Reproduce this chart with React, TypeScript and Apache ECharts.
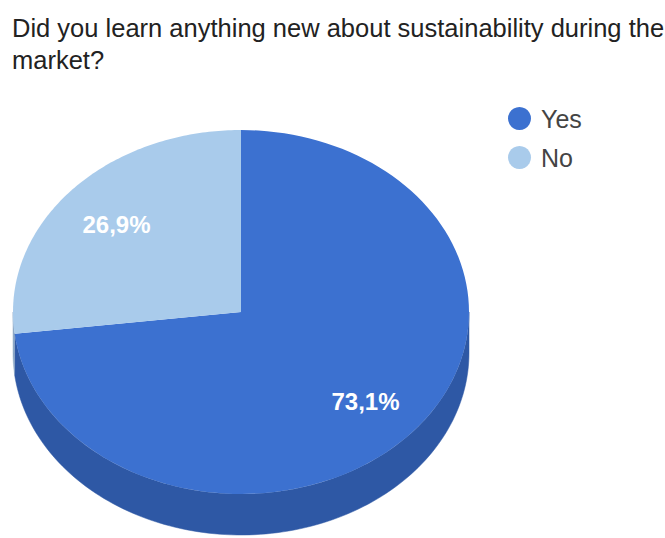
import React, { useEffect, useRef } from "react";
import * as echarts from "echarts";

const titleText = "Did you learn anything new about sustainability during the\nmarket?";
const categories = ["Yes", "No"];
const values = [73.1, 26.9];
const topColors = ["#3c71d0", "#a9cbeb"];
const sideColors = ["#2e58a5", "#8ea9c6"];

const CX = 241;
const CY = 312;
const RX = 228;
const RY = 182;
const DEPTH = 41;
const LABEL_F = 0.73;

export default function App() {
  const ref = useRef<HTMLDivElement>(null);
  useEffect(() => {
    if (!ref.current) return;
    const chart = echarts.init(ref.current, null, { renderer: "svg" });
    const total = values.reduce((a, b) => a + b, 0);
    const starts: number[] = [];
    let acc = 0;
    values.forEach((v) => {
      starts.push(acc);
      acc += v;
    });
    const pt = (phi: number, dy = 0) => [CX + RX * Math.cos(phi), CY + RY * Math.sin(phi) + dy];

    const renderItem = (params: any) => {
      const i = params.dataIndex;
      const t1 = (starts[i] / total) * Math.PI * 2;
      const t2 = ((starts[i] + values[i]) / total) * Math.PI * 2;
      const p1 = t1 - Math.PI / 2;
      const p2 = t2 - Math.PI / 2;
      const children: any[] = [];
      const N = 120;
      const a = Math.max(p1, 0);
      const b = Math.min(p2, Math.PI);
      if (b > a) {
        const pts: number[][] = [];
        for (let k = 0; k <= N; k++) pts.push(pt(a + ((b - a) * k) / N));
        for (let k = N; k >= 0; k--) pts.push(pt(a + ((b - a) * k) / N, DEPTH));
        children.push({
          type: "polygon",
          z2: 1,
          shape: { points: pts },
          style: { fill: sideColors[i], stroke: sideColors[i], lineWidth: 0.5 },
        });
      }
      const top: number[][] = [[CX, CY]];
      for (let k = 0; k <= N; k++) top.push(pt(p1 + ((p2 - p1) * k) / N));
      children.push({
        type: "polygon",
        z2: 10,
        shape: { points: top },
        style: { fill: topColors[i] },
      });
      const tm = (t1 + t2) / 2;
      children.push({
        type: "text",
        z2: 20,
        x: CX + RX * LABEL_F * Math.sin(tm),
        y: CY - RY * LABEL_F * Math.cos(tm) + 1,
        style: {
          text: values[i].toFixed(1).replace(".", ",") + "%",
          fill: "#ffffff",
          font: "bold 24px 'Liberation Sans', Arial, sans-serif",
          align: "center",
          verticalAlign: "middle",
        },
      });
      return { type: "group", children };
    };

    chart.setOption({
      animation: false,
      title: {
        text: titleText,
        left: 7,
        top: 7,
        textStyle: {
          fontFamily: "'Liberation Sans', Arial, sans-serif",
          fontSize: 25.5,
          fontWeight: "normal",
          color: "#222222",
          lineHeight: 32,
        },
      },
      legend: {
        data: categories,
        orient: "vertical",
        left: 503,
        top: 101,
        icon: "circle",
        itemWidth: 23,
        itemHeight: 23,
        itemGap: 14,
        textStyle: {
          fontFamily: "'Liberation Sans', Arial, sans-serif",
          fontSize: 25,
          lineHeight: 24,
          color: "#444444",
          padding: [0, 0, 0, 5],
        },
        selectedMode: false,
      },
      series: [
        {
          type: "pie",
          center: [-3000, -3000],
          radius: 1,
          silent: true,
          label: { show: false },
          labelLine: { show: false },
          data: categories.map((c, i) => ({
            name: c,
            value: values[i],
            itemStyle: { color: topColors[i] },
          })),
        },
        {
          type: "custom",
          coordinateSystem: "none",
          silent: true,
          data: values,
          renderItem,
        },
      ],
    });
    return () => chart.dispose();
  }, []);
  return (
    <div
      ref={ref}
      style={{ position: "fixed", left: 0, top: 0, width: 665, height: 538, background: "#ffffff" }}
    />
  );
}
